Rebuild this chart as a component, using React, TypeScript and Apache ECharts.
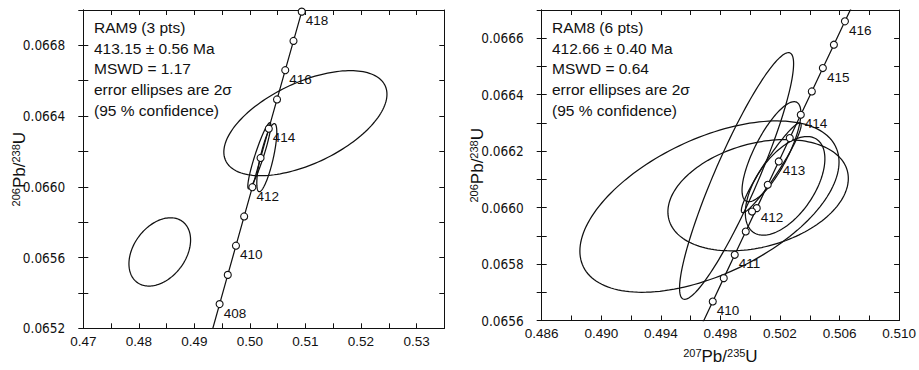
import React, { useEffect, useRef } from "react";
import * as echarts from "echarts";

// ---- Left panel (RAM9) ----
const leftConcAges = [407, 408, 409, 410, 411, 412, 413, 414, 415, 416, 417, 418, 419];
const leftConcX = [0.49307, 0.494541, 0.496013, 0.497487, 0.498963, 0.50044, 0.501918, 0.503398, 0.50488, 0.506362, 0.507847, 0.509332, 0.510819];
const leftConcY = [0.0651716, 0.0653368, 0.0655021, 0.0656674, 0.0658327, 0.0659981, 0.0661635, 0.0663289, 0.0664943, 0.0666598, 0.0668253, 0.0669908, 0.0671563];
const leftMarkerAges = [408, 409, 410, 411, 412, 413, 414, 415, 416, 417, 418];
const leftLabelAges = [408, 410, 412, 414, 416, 418];
const leftEllCx = [0.50999, 0.483768, 0.501691, 0.50304];
const leftEllCy = [0.06636, 0.065632, 0.066176, 0.066165];
const leftEllA = [0.014685, 0.005549, 0.002068, 0.001799];
const leftEllB = [0.000297, 0.000193, 0.000187, 0.0001926];
const leftEllRho = [0.55, 0.35, 0.92, 0.75];
const leftText = ["RAM9 (3 pts)", "413.15 ± 0.56 Ma", "MSWD = 1.17", "error ellipses are 2σ", "(95 % confidence)"];

// ---- Right panel (RAM8) ----
const rightConcAges = [409.5, 410, 410.5, 411, 411.5, 412, 412.5, 413, 413.5, 414, 414.5, 415, 415.5, 416, 416.5];
const rightConcX = [0.49675, 0.497487, 0.498225, 0.498963, 0.499702, 0.50044, 0.501179, 0.501918, 0.502658, 0.503398, 0.504139, 0.50488, 0.505621, 0.506362, 0.507105];
const rightConcY = [0.0655848, 0.0656674, 0.0657501, 0.0658327, 0.0659154, 0.0659981, 0.0660808, 0.0661635, 0.0662462, 0.0663289, 0.0664116, 0.0664943, 0.0665771, 0.0666598, 0.0667426];
const rightMarkerAges = [410, 410.5, 411, 411.5, 412, 412.5, 413, 413.5, 414, 414.5, 415, 415.5, 416];
const rightLabelAges = [410, 411, 412, 413, 414, 415, 416];
const rightExtraX = [0.500123];
const rightExtraY = [0.065986];
const rightEllCx = [0.497265, 0.499086, 0.500532, 0.501428, 0.502345, 0.501415];
const rightEllCy = [0.0660035, 0.066112, 0.066044, 0.066198, 0.066077, 0.066141];
const rightEllA = [0.008701, 0.003829, 0.006058, 0.001975, 0.002671, 0.002008];
const rightEllB = [0.0003035, 0.000437, 0.000197, 0.0001772, 0.0001747, 0.000159];
const rightEllRho = [0.52, 0.91, 0.3, 0.77, 0.55, 0.95];
const rightText = ["RAM8 (6 pts)", "412.66 ± 0.40 Ma", "MSWD = 0.64", "error ellipses are 2σ", "(95 % confidence)"];

const FONT = "Liberation Sans, Arial, sans-serif";
const NARROW = "Liberation Sans Narrow, Arial Narrow, DejaVu Sans Condensed, sans-serif";
const INK = "#111";

const axisName = "{sup|206}{main|Pb/}{sup|238}{main|U}";
const axisNameX = "{sup|207}{main|Pb/}{sup|235}{main|U}";
const nameStyle = {
  color: INK,
  fontFamily: FONT,
  rich: {
    sup: { fontSize: 11, verticalAlign: "top", fontFamily: FONT, color: INK, lineHeight: 18 },
    main: { fontSize: 17, fontFamily: FONT, color: INK, lineHeight: 18 },
  },
};

function ellipseData(cx: number[], cy: number[], a: number[], b: number[], r: number[]) {
  return cx.map((_, i) => [cx[i], cy[i], a[i], b[i], r[i]]);
}

function renderEllipse(params: any, api: any) {
  const cx = api.value(0), cy = api.value(1), a = api.value(2), b = api.value(3), r = api.value(4);
  const s = Math.sqrt(1 - r * r);
  const pts: number[][] = [];
  const n = 160;
  for (let i = 0; i < n; i++) {
    const t = (i / n) * Math.PI * 2;
    pts.push(api.coord([cx + a * Math.cos(t), cy + b * (r * Math.cos(t) + s * Math.sin(t))]));
  }
  return {
    type: "polygon",
    shape: { points: pts },
    style: { fill: "none", stroke: INK, lineWidth: 1.25 },
  };
}

function markerData(ages: number[], concAges: number[], xs: number[], ys: number[], labelAges: number[]) {
  return ages.map((age) => {
    const i = concAges.indexOf(age);
    return { value: [xs[i], ys[i]], name: labelAges.indexOf(age) >= 0 ? String(age) : "" };
  });
}

function xAxes(gridIndex: number, min: number, max: number, interval: number, fmt: (v: number) => string, withName: boolean) {
  const common = {
    type: "value",
    gridIndex,
    min,
    max,
    interval,
    splitLine: { show: false },
    axisLine: { show: true, onZero: false, lineStyle: { color: INK, width: 1 } },
    axisTick: { show: true, inside: true, length: 5, lineStyle: { color: INK } },
  };
  return [
    {
      ...common,
      position: "bottom",
      axisLabel: { show: true, formatter: fmt, color: INK, fontSize: 13.5, fontFamily: FONT, margin: 6 },
      ...(withName
        ? { name: axisNameX, nameLocation: "middle", nameGap: 27, nameMoveOverlap: false, nameTextStyle: nameStyle }
        : {}),
    },
    { ...common, position: "top", axisLabel: { show: false } },
  ];
}

function yAxes(gridIndex: number, min: number, max: number, interval: number, fmt: (v: number) => string) {
  const common = {
    type: "value",
    gridIndex,
    min,
    max,
    interval,
    splitLine: { show: false },
    axisLine: { show: true, onZero: false, lineStyle: { color: INK, width: 1 } },
  };
  return [
    {
      ...common,
      position: "left",
      axisTick: { show: true, inside: false, length: 5, lineStyle: { color: INK } },
      axisLabel: { show: true, formatter: fmt, color: INK, fontSize: 13.5, fontFamily: NARROW, margin: 18 },
      name: axisName,
      nameLocation: "middle",
      nameGap: 55,
      nameMoveOverlap: false,
      nameRotate: 90,
      nameTextStyle: nameStyle,
    },
    {
      ...common,
      position: "left",
      axisTick: { show: true, inside: true, length: 5, lineStyle: { color: INK } },
      axisLabel: { show: false },
    },
    {
      ...common,
      position: "right",
      axisTick: { show: true, inside: true, length: 5, lineStyle: { color: INK } },
      axisLabel: { show: false },
    },
  ];
}

function panelSeries(
  xi: number,
  yi: number,
  ells: number[][],
  concX: number[],
  concY: number[],
  markers: any[],
  extra: number[][]
) {
  return [
    {
      type: "custom",
      xAxisIndex: xi,
      yAxisIndex: yi,
      renderItem: renderEllipse,
      data: ells,
      encode: { x: 0, y: 1 },
      clip: true,
      silent: true,
      z: 2,
    },
    {
      type: "line",
      xAxisIndex: xi,
      yAxisIndex: yi,
      data: concX.map((x, i) => [x, concY[i]]),
      symbol: "none",
      lineStyle: { color: INK, width: 1.25 },
      clip: true,
      silent: true,
      z: 3,
    },
    {
      type: "scatter",
      xAxisIndex: xi,
      yAxisIndex: yi,
      data: [...markers, ...extra.map((v) => ({ value: v, name: "" }))],
      symbol: "circle",
      symbolSize: 7,
      itemStyle: { color: "#fff", borderColor: INK, borderWidth: 1.1, opacity: 1 },
      label: {
        show: true,
        position: "right",
        distance: 0,
        offset: [0, 9],
        formatter: (p: any) => p.name,
        color: INK,
        fontSize: 13.5,
        fontFamily: FONT,
        textBorderWidth: 0,
        textBorderColor: "transparent",
      },
      clip: true,
      silent: true,
      z: 4,
    },
  ];
}

function annotation(x: number, lines: string[]) {
  return {
    type: "text",
    x,
    y: 17,
    silent: true,
    style: {
      text: lines.join("\n"),
      font: "15.5px Liberation Sans, Arial, sans-serif",
      fontSize: 15.5,
      fontFamily: FONT,
      lineHeight: 20.7,
      fill: INK,
      verticalAlign: "top",
    },
  };
}

export default function App() {
  const ref = useRef<HTMLDivElement>(null);
  useEffect(() => {
    if (!ref.current) return;
    const chart = echarts.init(ref.current, undefined, { renderer: "svg" });

    const fmtLX = (v: number) => (Math.round(v * 1000) % 10 === 0 ? v.toFixed(2) : "");
    const fmtLY = (v: number) => (Math.round(v * 10000) % 4 === 0 ? v.toFixed(4) : "");
    const fmtRX = (v: number) => ((Math.round(v * 1000) - 486) % 4 === 0 ? v.toFixed(3) : "");
    const fmtRY = (v: number) => (Math.round(v * 10000) % 2 === 0 ? v.toFixed(4) : "");

    const option: any = {
      animation: false,
      textStyle: { fontFamily: FONT },
      grid: [
        { left: 83.3, top: 10, width: 361, height: 318.3, containLabel: false },
        { left: 541.7, top: 10, width: 358.3, height: 318.3, containLabel: false },
      ],
      xAxis: [
        ...xAxes(0, 0.47, 0.535, 0.005, fmtLX, false),
        ...xAxes(1, 0.486, 0.51, 0.002, fmtRX, true),
      ],
      yAxis: [
        ...yAxes(0, 0.0652, 0.067, 0.0002, fmtLY),
        ...yAxes(1, 0.0656, 0.0667, 0.0001, fmtRY),
      ],
      graphic: [annotation(94, leftText), annotation(552, rightText)],
      series: [
        ...panelSeries(
          0,
          0,
          ellipseData(leftEllCx, leftEllCy, leftEllA, leftEllB, leftEllRho),
          leftConcX,
          leftConcY,
          markerData(leftMarkerAges, leftConcAges, leftConcX, leftConcY, leftLabelAges),
          []
        ),
        ...panelSeries(
          2,
          3,
          ellipseData(rightEllCx, rightEllCy, rightEllA, rightEllB, rightEllRho),
          rightConcX,
          rightConcY,
          markerData(rightMarkerAges, rightConcAges, rightConcX, rightConcY, rightLabelAges),
          rightExtraX.map((x, i) => [x, rightExtraY[i]])
        ),
      ],
    };
    chart.setOption(option);
    return () => chart.dispose();
  }, []);
  return (
    <div
      ref={ref}
      style={{ position: "absolute", left: 0, top: 0, width: 919, height: 370, background: "#fff" }}
    />
  );
}
